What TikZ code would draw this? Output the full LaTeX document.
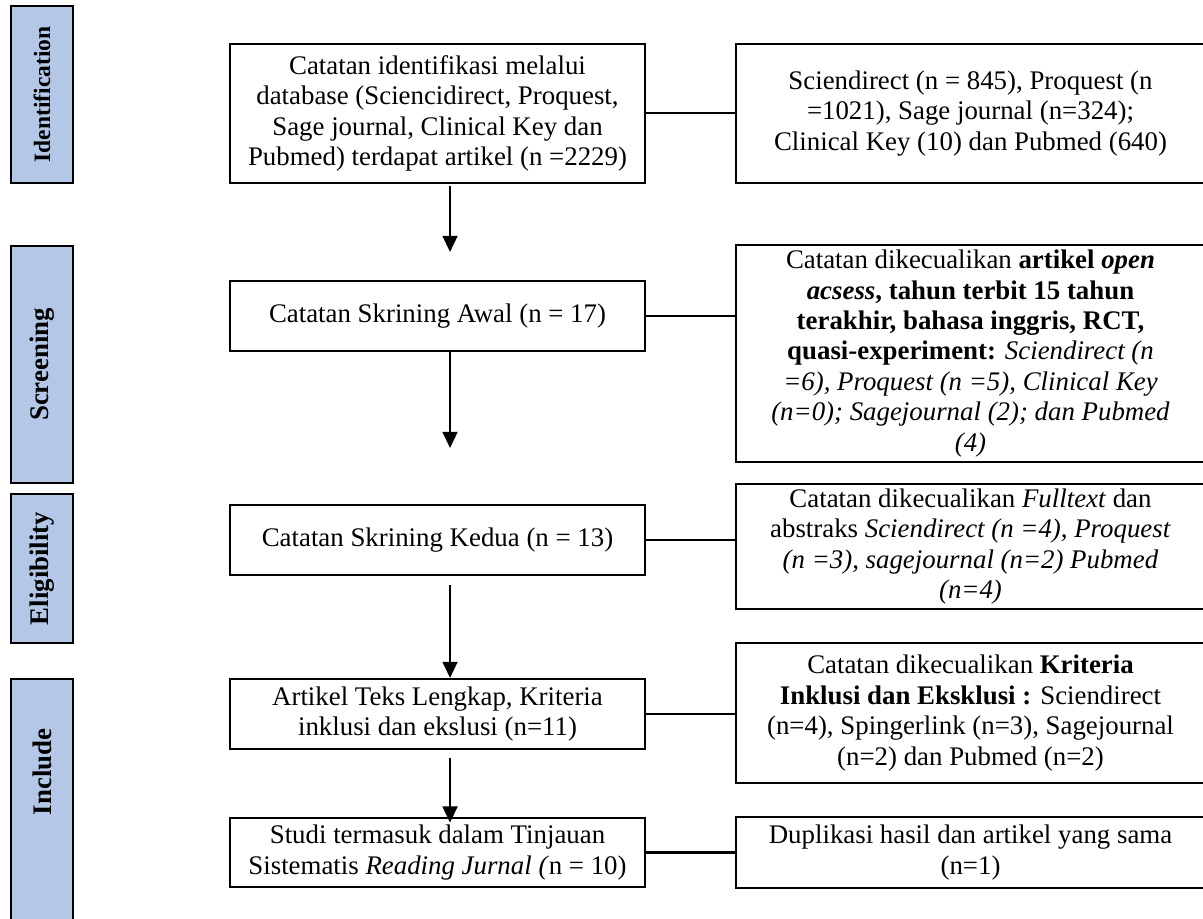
\documentclass[tikz,border=0pt]{standalone}
\usepackage{fontspec}
\setmainfont{Liberation Serif}
\usetikzlibrary{arrows.meta}
\definecolor{sideblue}{HTML}{B4C7E7}

\begin{document}
\begin{tikzpicture}[x=0.447pt, y=-0.447pt,
  every node/.style={font=\fontsize{12}{13.6}\selectfont},
  flowbox/.style={draw, line width=1pt, align=center, inner xsep=2pt, inner ysep=0.5pt},
  leftbox/.style={flowbox, minimum width=185.5pt},
  rightbox/.style={flowbox, minimum width=209.6pt},
  phase/.style={draw, line width=1pt, fill=sideblue, rotate=90, minimum height=27.7pt,
    font=\fontsize{12}{13.6}\selectfont\bfseries},
  flow/.style={line width=0.85pt, -{Triangle[length=7.2pt,width=6.7pt]}},
  link/.style={line width=0.9pt}]
  \clip[use as bounding box] (0,0) rectangle (1203,919);

  % Phases on the left
  \node[phase, minimum width=79.1pt, font=\fontsize{10.5}{12}\selectfont\bfseries] (idn) at (42,94.5) {Identification};
  \node[phase, minimum width=105.9pt] (scr) at (42,364.5) {Screening};
  \node[phase, minimum width=66.6pt] (elg) at (42,568.5) {Eligibility};
  \draw[line width=1pt, fill=sideblue] (11,679) rectangle (73,940);
  \node[rotate=90, font=\fontsize{12}{13.6}\selectfont\bfseries] (inc) at (42,772) {Include};

  % Main steps
  \node[leftbox, minimum height=62.1pt] (b1) at (437.5,113.5) {Catatan identifikasi melalui\\ database (Sciencidirect, Proquest,\\ Sage journal, Clinical Key dan\\ Pubmed) terdapat artikel (n =2229)};
  \node[leftbox, minimum height=31.3pt] (b2) at (437.5,316) {Catatan Skrining Awal (n = 17)};
  \node[leftbox, minimum height=31.3pt] (b3) at (437.5,540) {Catatan Skrining Kedua (n = 13)};
  \node[leftbox, minimum height=31.3pt] (b4) at (437.5,714) {Artikel Teks Lengkap, Kriteria\\ inklusi dan ekslusi (n=11)};
  \node[leftbox, minimum height=30.8pt] (b5) at (437.5,852.5) {Studi termasuk dalam Tinjauan\\ Sistematis \textit{Reading Jurnal (}n = 10)};

  % Records removed
  \node[rightbox, minimum height=62.1pt] (r1) at (970.5,113.5) {Sciendirect (n = 845), Proquest (n\\ =1021), Sage journal (n=324);\\ Clinical Key (10) dan Pubmed (640)};
  \node[rightbox, minimum height=97pt] (r2) at (970.5,353.5) {Catatan dikecualikan \textbf{artikel \textit{open}}\\ \textbf{\textit{acsess}, tahun terbit 15 tahun}\\ \textbf{terakhir, bahasa inggris, RCT,}\\ \textbf{quasi-experiment:} \textit{Sciendirect (n}\\ \textit{=6), Proquest (n =5), Clinical Key}\\ \textit{(n=0); Sagejournal (2); dan Pubmed}\\ \textit{(4)}};
  \node[rightbox, minimum height=55.9pt] (r3) at (970.5,546.5) {Catatan dikecualikan \textit{Fulltext} dan\\ abstraks \textit{Sciendirect (n =4), Proquest}\\ \textit{(n =3), sagejournal (n=2) Pubmed}\\ \textit{(n=4)}};
  \node[rightbox, minimum height=62.6pt] (r4) at (970.5,713) {Catatan dikecualikan \textbf{Kriteria}\\ \textbf{Inklusi dan Eksklusi :} Sciendirect\\ (n=4), Spingerlink (n=3), Sagejournal\\ (n=2) dan Pubmed (n=2)};
  \node[rightbox, minimum height=31.7pt] (r5) at (970.5,852.5) {Duplikasi hasil dan artikel yang sama\\ (n=1)};

  % Arrows down
  \draw[flow, shorten <=0.9pt, shorten >=12.5pt] ([xshift=5.6pt]b1.south) -- ([xshift=5.6pt]b2.north);
  \draw[flow, shorten >=25pt] ([xshift=5.6pt]b2.south) -- ([xshift=5.6pt]b3.north);
  \draw[flow, shorten <=4pt] ([xshift=5.6pt]b3.south) -- ([xshift=5.6pt]b4.north);
  \draw[flow, shorten <=3.6pt, shorten >=-2.5pt] ([xshift=5.6pt]b4.south) -- ([xshift=5.6pt]b5.north);

  % Links to the right
  \draw[link] (b1.east) -- (b1.east -| r1.west);
  \draw[link] (b2.east) -- (b2.east -| r2.west);
  \draw[link] (b3.east) -- (b3.east -| r3.west);
  \draw[link] (b4.east) -- (b4.east -| r4.west);
  \draw[link] (b5.east) -- (b5.east -| r5.west);
\end{tikzpicture}
\end{document}
